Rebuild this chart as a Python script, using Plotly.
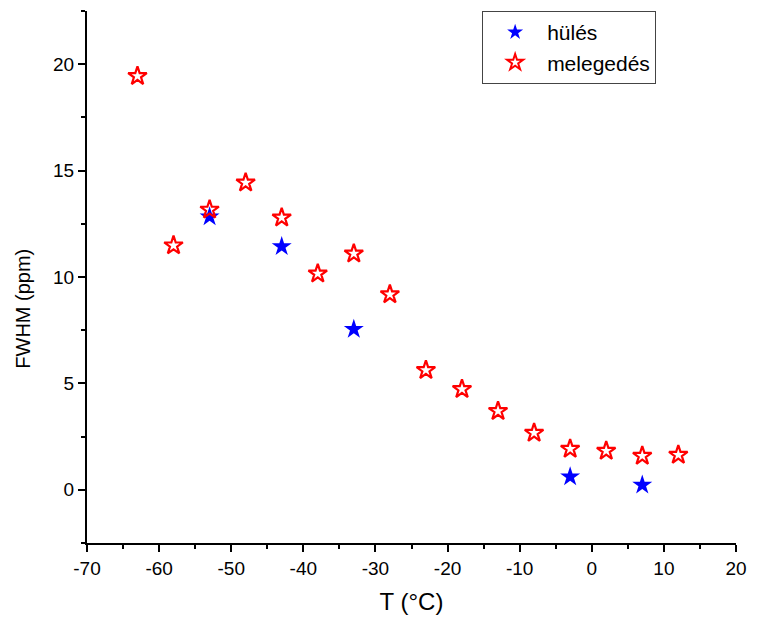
import plotly.graph_objects as go

# hülés (cooling)
T_cool = [-53, -43, -33, -3, 7]
fwhm_cool = [12.83, 11.43, 7.54, 0.61, 0.23]

# melegedés (warming)
T_warm = [-63, -58, -53, -48, -43, -38, -33, -28, -23, -18, -13, -8, -3, 2, 7, 12]
fwhm_warm = [19.44, 11.48, 13.16, 14.43, 12.79, 10.16, 11.1, 9.18, 5.62, 4.73, 3.7, 2.67, 1.92, 1.83, 1.59, 1.64]

x_ticks = [-70, -60, -50, -40, -30, -20, -10, 0, 10, 20]
x_labels = ["-70", "-60", "-50", "-40", "-30", "-20", "-10", "0", "10", "20"]
y_ticks = [0, 5, 10, 15, 20]
y_labels = ["0", "5", "10", "15", "20"]

FONT = "Liberation Sans, Arial"

fig = go.Figure()
fig.add_trace(go.Scatter(x=T_cool, y=fwhm_cool, mode="markers", name="hülés",
                         marker=dict(symbol="star", size=15, color="#0000FF",
                                     line=dict(width=0))))
fig.add_trace(go.Scatter(x=T_warm, y=fwhm_warm, mode="markers", name="melegedés",
                         marker=dict(symbol="star-open", size=14, color="#FF0000",
                                     line=dict(width=2.2, color="#FF0000"))))

axis_common = dict(showline=True, linecolor="black", linewidth=2, mirror=False,
                   showgrid=False, zeroline=False, ticks="outside", ticklen=7,
                   tickwidth=2, tickcolor="black", ticklabeloverflow="allow",
                   tickfont=dict(family=FONT, size=19, color="black"))

fig.update_xaxes(range=[-70, 20], tickmode="array", tickvals=x_ticks, ticktext=x_labels,
                 minor=dict(dtick=5, tick0=-70, ticks="outside", ticklen=4, tickwidth=2, tickcolor="black"),
                 title=dict(text="T (°C)", font=dict(family=FONT, size=24, color="black"), standoff=15),
                 **axis_common)
fig.update_yaxes(range=[-2.5, 22.5], tickmode="array", tickvals=y_ticks, ticktext=y_labels,
                 minor=dict(dtick=2.5, tick0=0, ticks="outside", ticklen=4, tickwidth=2, tickcolor="black"),
                 **axis_common)

fig.add_annotation(text="FWHM (ppm)", textangle=-90, xref="paper", yref="y",
                   x=(22 - 87) / 657, y=8.5, xanchor="center", yanchor="middle",
                   showarrow=False, font=dict(family=FONT, size=20, color="black"))

fig.update_layout(
    width=758, height=622,
    margin=dict(l=87, r=14, t=11, b=76),
    plot_bgcolor="white", paper_bgcolor="white",
    legend=dict(x=(487 - 87) / 657, y=1.0, xanchor="left", yanchor="top",
                bordercolor="#444444", borderwidth=1, bgcolor="white",
                font=dict(family=FONT, size=21, color="black"),
                tracegroupgap=0, itemsizing="constant", itemwidth=54),
)

fig.write_html("out.html")
